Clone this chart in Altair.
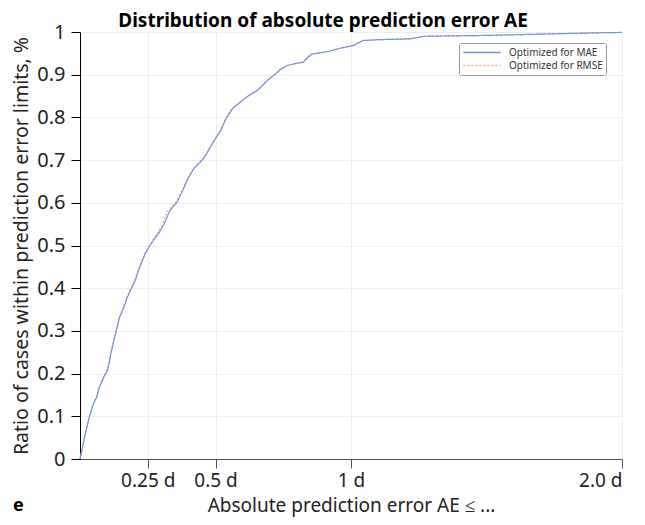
import altair as alt
import pandas as pd

series_names = ["Optimized for MAE", "Optimized for RMSE"]
series_colors = ["#7194d8", "#f2a87e"]

mae_x = [0.0, 0.01, 0.02, 0.035, 0.05, 0.062, 0.07, 0.09, 0.1, 0.108, 0.115, 0.13, 0.145,
         0.165, 0.172, 0.19, 0.205, 0.215, 0.24, 0.258, 0.28, 0.29, 0.31, 0.33, 0.345,
         0.357, 0.38, 0.396, 0.42, 0.451, 0.465, 0.486, 0.52, 0.541, 0.566, 0.585, 0.60,
         0.62, 0.652, 0.67, 0.689, 0.72, 0.74, 0.762, 0.80, 0.824, 0.84, 0.855, 0.922,
         0.96, 1.008, 1.045, 1.10, 1.218, 1.27, 1.5, 1.7, 1.9, 2.0]
mae_y = [0.0, 0.03, 0.06, 0.10, 0.13, 0.145, 0.165, 0.195, 0.205, 0.225, 0.25, 0.29, 0.33,
         0.36, 0.375, 0.40, 0.42, 0.44, 0.48, 0.50, 0.52, 0.528, 0.55, 0.58, 0.592,
         0.60, 0.63, 0.654, 0.68, 0.70, 0.712, 0.736, 0.77, 0.80, 0.823, 0.832, 0.84,
         0.85, 0.862, 0.872, 0.885, 0.901, 0.912, 0.921, 0.927, 0.929, 0.94, 0.948, 0.955,
         0.962, 0.968, 0.98, 0.982, 0.984, 0.99, 0.992, 0.995, 0.998, 0.999]

rmse_x = [0.0, 0.01, 0.02, 0.034, 0.049, 0.06, 0.068, 0.088, 0.098, 0.106, 0.114, 0.128, 0.144,
          0.162, 0.17, 0.188, 0.202, 0.212, 0.238, 0.255, 0.276, 0.286, 0.303, 0.322, 0.34,
          0.352, 0.377, 0.394, 0.418, 0.449, 0.463, 0.484, 0.518, 0.539, 0.564, 0.583, 0.598,
          0.618, 0.65, 0.668, 0.687, 0.718, 0.738, 0.76, 0.80, 0.822, 0.838, 0.853, 0.92,
          0.958, 1.005, 1.043, 1.10, 1.215, 1.27, 1.5, 1.7, 1.9, 2.0]
rmse_y = mae_y

df = pd.DataFrame({
    "x": mae_x + rmse_x,
    "y": mae_y + rmse_y,
    "series": [series_names[0]] * len(mae_x) + [series_names[1]] * len(rmse_x),
    "order": list(range(len(mae_x))) + list(range(len(rmse_x))),
})

FONT = "Noto Sans"

legend = alt.Legend(
    title=None, orient="none", legendX=379, legendY=11,
    symbolType="stroke", symbolSize=1400, symbolStrokeWidth=1.6,
    labelFontSize=10, labelFont=FONT, labelColor="#333333", labelOffset=7,
    clipHeight=13, rowPadding=0, padding=3,
    strokeColor="#999999", fillColor="white", cornerRadius=2,
)

color = alt.Color("series:N", scale=alt.Scale(domain=series_names, range=series_colors), legend=legend)
dash = alt.StrokeDash("series:N", scale=alt.Scale(domain=series_names, range=[[1, 0], [2, 2]]), legend=legend)

x_enc = alt.X("x:Q", scale=alt.Scale(domain=[0, 2], nice=False, zero=False),
              axis=alt.Axis(values=[0.25, 0.5, 1, 2],
                            labelExpr="datum.value == 2 ? '2.0 d' : datum.value + ' d'",
                            title="Absolute prediction error AE ≤ ...",
                            tickSize=9, tickColor="#555555", domainColor="#555555",
                            labelFontSize=19, labelPadding=3, labelColor="#222222",
                            titleFontSize=19, titleFontWeight="normal", titleColor="#222222",
                            titlePadding=6, gridColor="#eeeeee", labelFont=FONT, titleFont=FONT))
y_enc = alt.Y("y:Q", scale=alt.Scale(domain=[0, 1], nice=False),
              axis=alt.Axis(values=[0, 0.1, 0.2, 0.3, 0.4, 0.5, 0.6, 0.7, 0.8, 0.9, 1.0],
                            format=".1~f",
                            title="Ratio of cases within prediction error limits, %",
                            tickSize=9, tickColor="black", domainColor="black",
                            labelFontSize=20, labelPadding=6, labelColor="#222222",
                            titleFontSize=19.5, titleFontWeight="normal", titleColor="#222222",
                            titlePadding=5, gridColor="#eeeeee", labelFont=FONT, titleFont=FONT))

base = alt.Chart(df)
line_r = base.transform_filter(alt.datum.series == series_names[1]).mark_line(strokeWidth=1.2).encode(
    x=x_enc, y=y_enc, color=color, strokeDash=dash, order="order:Q")
line_m = base.transform_filter(alt.datum.series == series_names[0]).mark_line(strokeWidth=1.2).encode(
    x=x_enc, y=y_enc, color=color, strokeDash=dash, order="order:Q")

panel = alt.Chart(pd.DataFrame({"label": ["e"]})).mark_text(
    font=FONT, fontSize=18, fontWeight="bold", align="left", baseline="alphabetic", color="black"
).encode(text="label:N", x=alt.value(-67), y=alt.value(479))

chart = alt.layer(line_r, line_m, panel).properties(
    width=542, height=427,
    title=alt.Title("Distribution of absolute prediction error AE", font=FONT, fontSize=19,
                    fontWeight="bold", color="black", anchor="middle", frame="bounds",
                    offset=-9, dx=5),
    autosize=alt.AutoSizeParams(type="none"),
    padding={"left": 72, "top": 24, "right": 13, "bottom": 58},
).configure_view(stroke=None)

chart.save("out.html", embed_options={"renderer": "svg", "actions": False})
